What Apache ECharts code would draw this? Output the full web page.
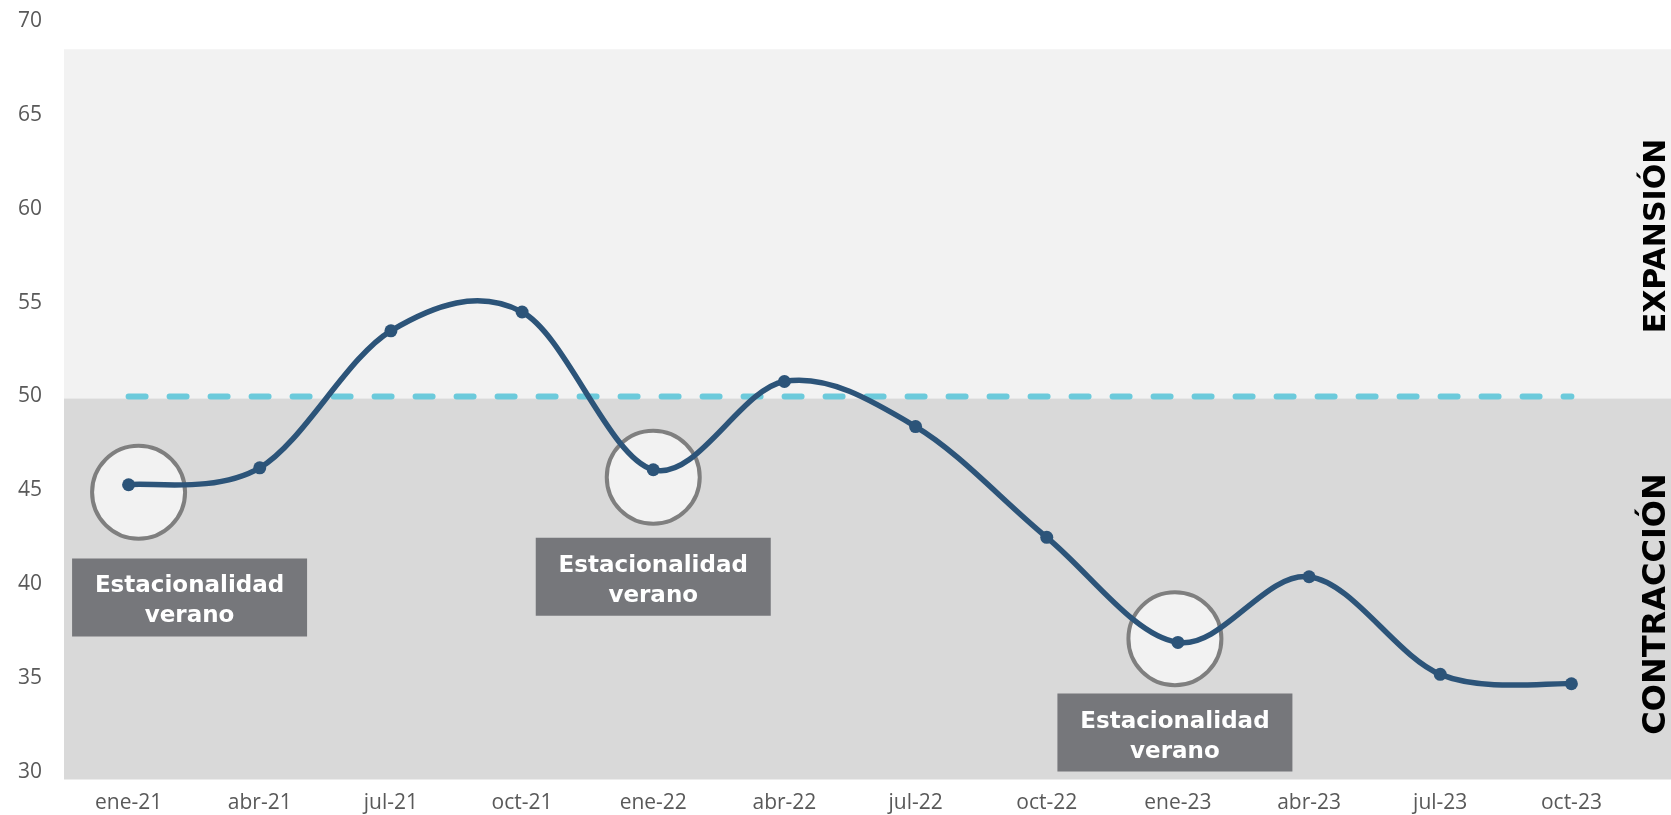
<!DOCTYPE html>
<html>
<head>
<meta charset="utf-8">
<script src="https://cdn.jsdelivr.net/npm/echarts@6/dist/echarts.min.js"></script>
<style>
html,body{margin:0;padding:0;background:#ffffff;}
#c{width:1671px;height:815px;}
</style>
</head>
<body>
<div id="c"></div>
<script>
// ---- data ----
const categories = ['ene-21','abr-21','jul-21','oct-21','ene-22','abr-22','jul-22','oct-22','ene-23','abr-23','jul-23','oct-23'];
const indice = [45.3, 46.2, 53.5, 54.5, 46.1, 50.8, 48.4, 42.5, 36.9, 40.4, 35.2, 34.7];
const umbral = [50, 50, 50, 50, 50, 50, 50, 50, 50, 50, 50, 50];
const yMin = 30, yMax = 70, yStep = 5;
const zonaExpansion = [68.5, 49.9];
const zonaContraccion = [49.9, 29.6];
const circulos = [[0, 44.9], [4, 45.7], [8, 37.1]];
const notas = [[0, 39.3], [4, 40.4], [8, 32.1]];
const notaTexto = 'Estacionalidad\nverano';
const etiquetaArriba = 'EXPANSIÓN';
const etiquetaAbajo = 'CONTRACCIÓN';

const chart = echarts.init(document.getElementById('c'));
const circleOffsets = [[10, 0], [0, 0], [-3, 0]];
const noteOffsets = [[61, 0], [0, 0], [-3, 0]];
const lineColor = '#2c5479';

// Excel-like smoothed path (Catmull-Rom through the data points, drawn via axis coords)
function renderSmooth(params, api) {
  const n = indice.length;
  const i = params.dataIndex;
  if (i >= n - 1) return null;
  const P = function (k) {
    const kk = Math.max(0, Math.min(n - 1, k));
    return api.coord([kk, indice[kk]]);
  };
  const p0 = P(i - 1), p1 = P(i), p2 = P(i + 1), p3 = P(i + 2);
  const t = 1 / 6;
  return {
    type: 'bezierCurve',
    shape: {
      x1: p1[0], y1: p1[1], x2: p2[0], y2: p2[1],
      cpx1: p1[0] + (p2[0] - p0[0]) * t, cpy1: p1[1] + (p2[1] - p0[1]) * t,
      cpx2: p2[0] - (p3[0] - p1[0]) * t, cpy2: p2[1] - (p3[1] - p1[1]) * t
    },
    style: {stroke: lineColor, lineWidth: 5.5, fill: null, lineCap: 'round'}
  };
}

chart.setOption({
  animation: false,
  grid: {left: 63, right: 34, top: 21, bottom: 43, containLabel: false},
  xAxis: {
    type: 'category',
    data: categories,
    boundaryGap: true,
    axisLine: {show: false},
    axisTick: {show: false},
    axisLabel: {color: '#595959', fontSize: 21, fontFamily: 'Open Sans', margin: 21}
  },
  yAxis: {
    type: 'value',
    min: yMin, max: yMax, interval: yStep,
    axisLine: {show: false},
    axisTick: {show: false},
    splitLine: {show: false},
    axisLabel: {color: '#595959', fontSize: 21, fontFamily: 'Open Sans', margin: 21}
  },
  series: [
    {
      name: 'circulos',
      type: 'scatter',
      z: 2,
      clip: false,
      symbol: 'circle',
      symbolSize: 93,
      itemStyle: {color: '#f2f2f2', borderColor: '#7f7f7f', borderWidth: 4, opacity: 1},
      data: circulos.map((d, i) => ({value: d, symbolOffset: circleOffsets[i]})),
      silent: true
    },
    {
      name: 'umbral',
      type: 'line',
      z: 3,
      data: umbral,
      showSymbol: false,
      symbol: 'none',
      lineStyle: {color: '#6ccadb', width: 6, type: [17, 24], cap: 'round'},
      silent: true
    },
    {
      name: 'indiceCurva',
      type: 'custom',
      z: 4,
      data: indice.map((v, i) => [i, v]),
      encode: {x: 0, y: 1},
      renderItem: renderSmooth,
      silent: true
    },
    {
      name: 'indice',
      type: 'line',
      z: 5,
      data: indice,
      symbol: 'circle',
      symbolSize: 13,
      showSymbol: true,
      lineStyle: {width: 0, opacity: 0},
      itemStyle: {color: lineColor, opacity: 1}
    },
    {
      name: 'notas',
      type: 'scatter',
      z: 6,
      clip: false,
      symbol: 'rect',
      symbolSize: [235, 78],
      itemStyle: {color: '#76777b', opacity: 1},
      label: {
        show: true,
        position: 'inside',
        formatter: notaTexto,
        color: '#ffffff',
        fontWeight: 'bold',
        fontSize: 23,
        lineHeight: 30,
        fontFamily: 'DejaVu Sans',
        align: 'center',
        offset: [0, 4]
      },
      data: notas.map((d, i) => ({value: d, symbolOffset: noteOffsets[i]})),
      silent: true
    }
  ]
});

function drawBackground() {
  const yTop1 = chart.convertToPixel({yAxisIndex: 0}, zonaExpansion[0]);
  const yBot1 = chart.convertToPixel({yAxisIndex: 0}, zonaExpansion[1]);
  const yTop2 = chart.convertToPixel({yAxisIndex: 0}, zonaContraccion[0]);
  const yBot2 = chart.convertToPixel({yAxisIndex: 0}, zonaContraccion[1]);
  const x0 = 64, x1 = chart.getWidth();
  chart.setOption({
    graphic: [
      {type: 'rect', z: -10, silent: true, shape: {x: x0, y: yTop1, width: x1 - x0, height: yBot1 - yTop1}, style: {fill: '#f2f2f2'}},
      {type: 'rect', z: -10, silent: true, shape: {x: x0, y: yTop2, width: x1 - x0, height: yBot2 - yTop2}, style: {fill: '#d9d9d9'}},
      {type: 'text', z: 10, silent: true, x: 1657, y: 236, rotation: Math.PI / 2,
        style: {text: etiquetaArriba, fill: '#000000', font: 'bold 30px "DejaVu Sans", sans-serif', textAlign: 'center', textVerticalAlign: 'middle'}},
      {type: 'text', z: 10, silent: true, x: 1657, y: 604, rotation: Math.PI / 2,
        style: {text: etiquetaAbajo, fill: '#000000', font: 'bold 32px "DejaVu Sans", sans-serif', textAlign: 'center', textVerticalAlign: 'middle'}}
    ]
  });
}
drawBackground();
</script>
</body>
</html>
